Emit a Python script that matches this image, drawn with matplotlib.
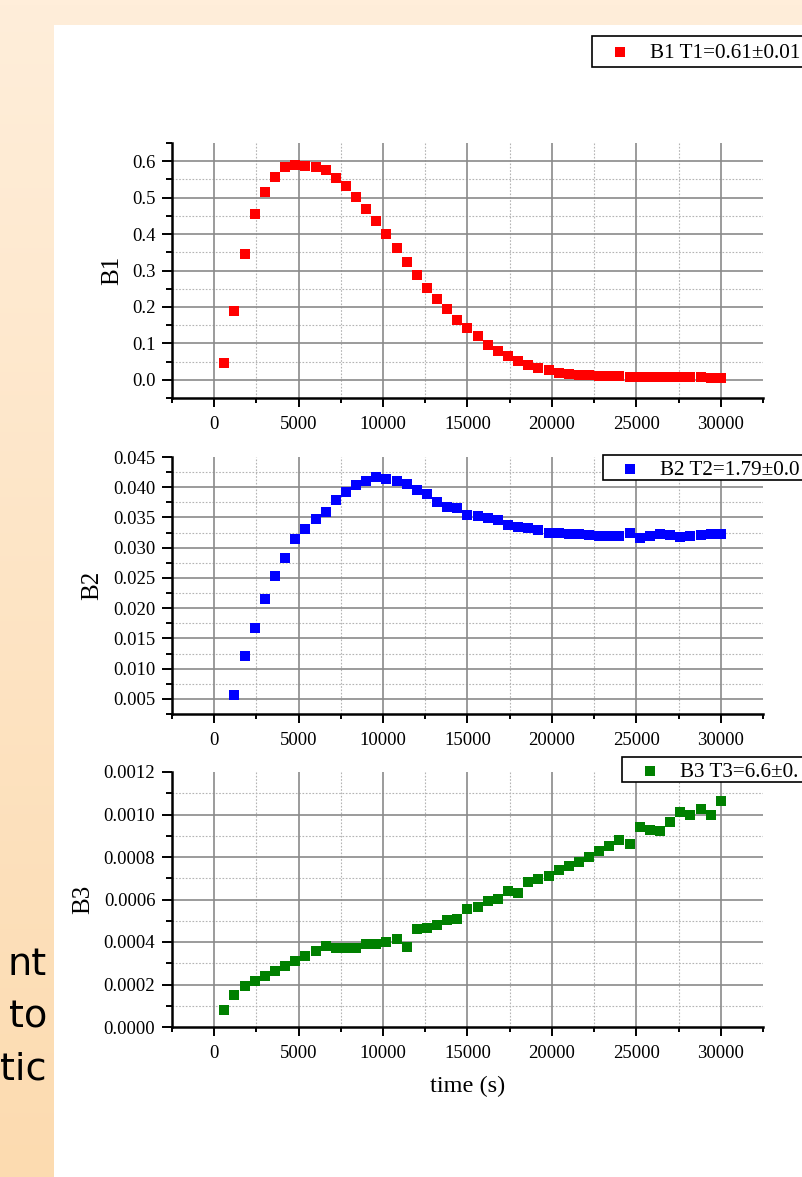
import numpy as np
import matplotlib
matplotlib.use("Agg")
import matplotlib.pyplot as plt
from matplotlib.ticker import MultipleLocator, FormatStrFormatter, FixedLocator
from matplotlib.lines import Line2D
from matplotlib.patches import Rectangle
from matplotlib.colors import LinearSegmentedColormap

# ---------------- data ----------------
time_b1 = [600, 1200, 1800, 2400, 3000, 3600, 4200, 4800, 5400, 6000,
           6600, 7200, 7800, 8400, 9000, 9600, 10200, 10800, 11400, 12000,
           12600, 13200, 13800, 14400, 15000, 15600, 16200, 16800, 17400, 18000,
           18600, 19200, 19800, 20400, 21000, 21600, 22200, 22800, 23400, 24000,
           24600, 25200, 25800, 26400, 27000, 27600, 28200, 28800, 29400, 30000]
b1 = [0.046, 0.190, 0.345, 0.454, 0.516, 0.557, 0.584, 0.589, 0.587, 0.584,
      0.577, 0.554, 0.532, 0.502, 0.470, 0.436, 0.399, 0.361, 0.322, 0.287,
      0.253, 0.223, 0.193, 0.164, 0.141, 0.119, 0.096, 0.078, 0.064, 0.052,
      0.041, 0.032, 0.026, 0.020, 0.017, 0.014, 0.012, 0.011, 0.010, 0.010,
      0.009, 0.009, 0.008, 0.008, 0.008, 0.007, 0.007, 0.007, 0.006, 0.006]

time_b2 = [1200, 1800, 2400, 3000, 3600, 4200, 4800, 5400, 6000,
           6600, 7200, 7800, 8400, 9000, 9600, 10200, 10800, 11400, 12000,
           12600, 13200, 13800, 14400, 15000, 15600, 16200, 16800, 17400, 18000,
           18600, 19200, 19800, 20400, 21000, 21600, 22200, 22800, 23400, 24000,
           24600, 25200, 25800, 26400, 27000, 27600, 28200, 28800, 29400, 30000]
b2 = [0.0057, 0.0121, 0.0168, 0.0216, 0.0253, 0.0283, 0.0314, 0.0331, 0.0348,
      0.0359, 0.0379, 0.0392, 0.0403, 0.0411, 0.0417, 0.0413, 0.0410, 0.0406, 0.0395,
      0.0388, 0.0375, 0.0368, 0.0366, 0.0354, 0.0353, 0.0349, 0.0346, 0.0338, 0.0334,
      0.0332, 0.0330, 0.0325, 0.0325, 0.0322, 0.0322, 0.0321, 0.0320, 0.0320, 0.0320,
      0.0324, 0.0316, 0.0320, 0.0322, 0.0321, 0.0317, 0.0320, 0.0321, 0.0322, 0.0322]

time_b3 = time_b1
b3 = [0.0000816, 0.000149, 0.000195, 0.000218, 0.000238, 0.000265, 0.000289, 0.000312, 0.000333, 0.000356,
      0.000383, 0.000372, 0.000372, 0.000372, 0.000391, 0.000391, 0.000400, 0.000414, 0.000376, 0.000463,
      0.000466, 0.000480, 0.000505, 0.000508, 0.000555, 0.000563, 0.000595, 0.000602, 0.000638, 0.000631,
      0.000681, 0.000696, 0.000712, 0.000737, 0.000756, 0.000775, 0.000800, 0.000827, 0.000850, 0.000878,
      0.000863, 0.000940, 0.000929, 0.000921, 0.000963, 0.001010, 0.000999, 0.001026, 0.000999, 0.001062]

legend_labels = ["B1 T1=0.61\u00b10.01", "B2 T2=1.79\u00b10.0", "B3 T3=6.6\u00b10."]
series_colors = ["#FF0000", "#0000FF", "#008000"]
y_labels = ["B1", "B2", "B3"]
x_label = "time (s)"
side_text = ["nt", "to", "tic"]

# ---------------- figure ----------------
W, H = 803, 1177
fig = plt.figure(figsize=(W / 100, H / 100), dpi=100)
plt.rcParams['font.family'] = ['Liberation Serif', 'DejaVu Serif']


def fx(x):
    return x / W


def fy(y):
    return 1 - y / H


# orange slide background gradient
bg = fig.add_axes([0, 0, 1, 1], zorder=-10)
cmap = LinearSegmentedColormap.from_list("bg", ["#FFEEDA", "#FCDBB0"])
grad = np.linspace(0, 1, 256).reshape(-1, 1)
bg.imshow(grad, cmap=cmap, aspect='auto', extent=[0, 1, 0, 1], origin='upper')
bg.set_xlim(0, 1); bg.set_ylim(0, 1)
bg.axis('off')

# white content panel
fig.add_artist(Rectangle((fx(54), 0), 1 - fx(54), (H - 25) / H,
                         transform=fig.transFigure, facecolor='white',
                         edgecolor='none', zorder=-5))

# partial slide text at left
for txt, base in zip(side_text, [975, 1027, 1080]):
    fig.text(fx(47), fy(base), txt, ha='right', va='baseline',
             fontsize=27.5, family=['DejaVu Sans'], color='black')


def px_axes(l, t, r, b):
    return fig.add_axes([l / W, 1 - b / H, (r - l) / W, (b - t) / H])


def style_axis(ax, ylim, ymaj, ymin, yfmt):
    ax.set_xlim(-2500, 32500)
    ax.set_ylim(*ylim)
    ax.xaxis.set_major_locator(FixedLocator([0, 5000, 10000, 15000, 20000, 25000, 30000]))
    ax.xaxis.set_minor_locator(MultipleLocator(2500))
    ax.yaxis.set_major_locator(MultipleLocator(ymaj))
    ax.yaxis.set_minor_locator(MultipleLocator(ymin))
    ax.yaxis.set_major_formatter(FormatStrFormatter(yfmt))
    ax.xaxis.set_major_formatter(FormatStrFormatter('%d'))
    for s in ['top', 'right']:
        ax.spines[s].set_visible(False)
    for s in ['left', 'bottom']:
        ax.spines[s].set_linewidth(1.8)
        ax.spines[s].set_color('black')
    ax.tick_params(which='both', direction='out', width=1.4, color='black',
                   top=False, right=False)
    ax.tick_params(axis='x', which='major', length=6.5, pad=6.5, labelsize=13.5)
    ax.tick_params(axis='x', which='minor', length=3.6)
    ax.tick_params(axis='y', which='major', length=7, pad=5, labelsize=13.5)
    ax.tick_params(axis='y', which='minor', length=4)
    ax.set_facecolor('none')
    # grid lines drawn only strictly inside the frame
    x0, x1 = ax.get_xlim()
    y0, y1 = ax.get_ylim()
    eps_x = (x1 - x0) * 1e-6
    eps_y = (y1 - y0) * 1e-6
    xmaj = [v for v in ax.xaxis.get_majorticklocs() if x0 + eps_x < v < x1 - eps_x]
    ymajl = [v for v in ax.yaxis.get_majorticklocs() if y0 + eps_y < v < y1 - eps_y]
    xmin = [v for v in ax.xaxis.get_minorticklocs()
            if x0 + eps_x < v < x1 - eps_x and all(abs(v - m) > eps_x for m in xmaj)]
    ymin_l = [v for v in ax.yaxis.get_minorticklocs()
              if y0 + eps_y < v < y1 - eps_y and all(abs(v - m) > eps_y for m in ymajl)]
    for v in xmin:
        ax.axvline(v, color='#b4b4b4', lw=0.8, ls=(0, (1.5, 1.5)), zorder=0.5)
    for v in ymin_l:
        ax.axhline(v, color='#b4b4b4', lw=0.8, ls=(0, (1.5, 1.5)), zorder=0.5)
    for v in xmaj:
        ax.axvline(v, color='#8a8a8a', lw=1.2, zorder=0.6)
    for v in ymajl:
        ax.axhline(v, color='#8a8a8a', lw=1.2, zorder=0.6)


ax1 = px_axes(172, 143, 763, 398)
ax2 = px_axes(172, 457, 763, 714)
ax3 = px_axes(172, 772, 763, 1027)

style_axis(ax1, (-0.05, 0.65), 0.1, 0.05, '%.1f')
style_axis(ax2, (0.0025, 0.045), 0.005, 0.0025, '%.3f')
style_axis(ax3, (0.0, 0.0012), 0.0002, 0.0001, '%.4f')

ms = 7.8
ax1.plot(time_b1, b1, ls='none', marker='s', ms=ms, color=series_colors[0], mew=0, zorder=3, clip_on=False)
ax2.plot(time_b2, b2, ls='none', marker='s', ms=ms, color=series_colors[1], mew=0, zorder=3, clip_on=False)
ax3.plot(time_b3, b3, ls='none', marker='s', ms=ms, color=series_colors[2], mew=0, zorder=3, clip_on=False)

ax1.set_ylabel(y_labels[0], fontsize=18, labelpad=6)
ax2.set_ylabel(y_labels[1], fontsize=18, labelpad=7)
ax3.set_ylabel(y_labels[2], fontsize=18, labelpad=7)
ax3.set_xlabel(x_label, fontsize=17.5, labelpad=10)

# legend boxes, running off the right edge of the screenshot
# (box left, box top, box bottom, marker x, marker y, text x, text baseline)
leg_geom = [(592, 36, 67, 620, 52, 650, 57.5),
            (603, 455, 480, 630, 469, 660, 475),
            (622, 757, 782, 650, 770.5, 680, 777)]
for lab, col, (bl, bt, bb, mx, my, tx, tb) in zip(legend_labels, series_colors, leg_geom):
    fig.add_artist(Rectangle((fx(bl), fy(bb)), fx(840) - fx(bl), fy(bt) - fy(bb),
                             transform=fig.transFigure, facecolor='white',
                             edgecolor='black', lw=1.2, zorder=20))
    fig.add_artist(Line2D([fx(mx)], [fy(my)], transform=fig.transFigure, ls='none',
                          marker='s', ms=7.0, color=col, mew=0, zorder=21))
    fig.text(fx(tx), fy(tb), lab, ha='left', va='baseline', fontsize=15.2,
             family=['Liberation Serif'], color='black', zorder=22)

fig.savefig("out.png", dpi=100)
